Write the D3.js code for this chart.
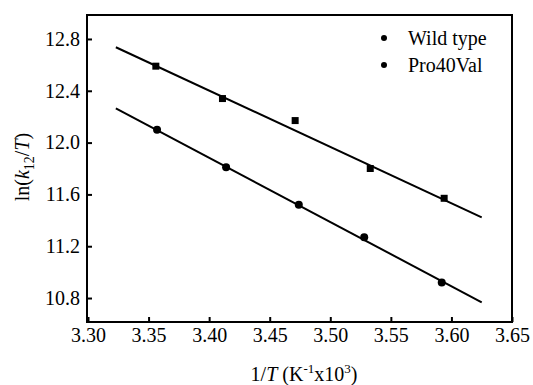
<!DOCTYPE html>
<html>
<head>
<meta charset="utf-8">
<script src="https://cdn.jsdelivr.net/npm/d3@7"></script>
<style>
  body { margin: 0; background: #fff; }
  svg { display: block; font-family: "Liberation Serif", "Times New Roman", serif; }
</style>
</head>
<body>
<div id="chart"></div>
<script>
// data
const wildX = [3.356, 3.411, 3.471, 3.533, 3.594];
const wildY = [12.59, 12.34, 12.17, 11.80, 11.57];
const proX = [3.357, 3.414, 3.474, 3.528, 3.592];
const proY = [12.10, 11.81, 11.52, 11.27, 10.92];
// fitted lines, endpoints as drawn
const fitX = [3.323, 3.625];
const wildFit = [12.736, 11.423];
const proFit = [12.265, 10.767];
const xTicks = [3.30, 3.35, 3.40, 3.45, 3.50, 3.55, 3.60, 3.65];
const yTicks = [10.8, 11.2, 11.6, 12.0, 12.4, 12.8];
const legendLabels = ["Wild type", "Pro40Val"];

const width = 533, height = 385;
const margin = {top: 15, right: 21, bottom: 63, left: 87};

const svg = d3.select("#chart")
    .append("svg")
    .attr("width", width)
    .attr("height", height);

const x = d3.scaleLinear()
    .domain([3.30, 3.65])
    .range([margin.left + 1, width - margin.right]);

const y = d3.scaleLinear()
    .domain([10.615, 12.985])
    .range([height - margin.bottom, margin.top]);

// frame
svg.append("rect")
    .attr("x", margin.left)
    .attr("y", margin.top)
    .attr("width", width - margin.right - margin.left)
    .attr("height", height - margin.bottom - margin.top)
    .attr("fill", "none")
    .attr("stroke", "#000")
    .attr("stroke-width", 2);

const xAxis = svg.append("g")
    .attr("transform", `translate(0,${height - margin.bottom})`)
    .call(d3.axisBottom(x).tickValues(xTicks).tickFormat(d3.format(".2f"))
        .tickSize(-5).tickPadding(6));

const yAxis = svg.append("g")
    .attr("transform", `translate(${margin.left},0)`)
    .call(d3.axisLeft(y).tickValues(yTicks).tickFormat(d3.format(".1f"))
        .tickSize(-5).tickPadding(7));

[xAxis, yAxis].forEach(g => {
    g.select(".domain").remove();
    g.selectAll(".tick line").attr("stroke", "#000").attr("stroke-width", 2);
    g.selectAll(".tick text")
        .attr("fill", "#000")
        .attr("font-size", "20px")
        .attr("font-family", "Liberation Serif, serif");
});

// fit lines
const line = d3.line().x(d => x(d[0])).y(d => y(d[1]));
[wildFit, proFit].forEach(f => {
    svg.append("path")
        .datum(fitX.map((v, i) => [v, f[i]]))
        .attr("d", line)
        .attr("fill", "none")
        .attr("stroke", "#000")
        .attr("stroke-width", 2);
});

// points
svg.selectAll("rect.wild")
    .data(wildX.map((v, i) => [v, wildY[i]]))
    .enter()
    .append("rect")
    .attr("class", "wild")
    .attr("x", d => x(d[0]) - 3.5)
    .attr("y", d => y(d[1]) - 3.5)
    .attr("width", 7)
    .attr("height", 7)
    .attr("fill", "#000");

svg.selectAll("circle.pro")
    .data(proX.map((v, i) => [v, proY[i]]))
    .enter()
    .append("circle")
    .attr("class", "pro")
    .attr("cx", d => x(d[0]))
    .attr("cy", d => y(d[1]))
    .attr("r", 4)
    .attr("fill", "#000");

// legend
const legend = svg.append("g").attr("transform", "translate(384,38)");
legendLabels.forEach((label, i) => {
    legend.append("circle")
        .attr("cx", 0)
        .attr("cy", i * 27)
        .attr("r", 3)
        .attr("fill", "#000");
    legend.append("text")
        .attr("x", 24)
        .attr("y", i * 27 + 7)
        .attr("font-size", "20px")
        .text(label);
});

// axis titles
const xt = svg.append("text")
    .attr("x", 304)
    .attr("y", 381)
    .attr("text-anchor", "middle")
    .attr("font-size", "20px");
xt.append("tspan").text("1/");
xt.append("tspan").attr("font-style", "italic").text("T");
xt.append("tspan").text(" (K");
xt.append("tspan").attr("font-size", "13px").attr("dy", -8).text("-1");
xt.append("tspan").attr("dy", 8).text("x10");
xt.append("tspan").attr("font-size", "13px").attr("dy", -8).text("3");
xt.append("tspan").attr("dy", 8).text(")");

const yt = svg.append("text")
    .attr("transform", "translate(29,167) rotate(-90)")
    .attr("text-anchor", "middle")
    .attr("font-size", "20px");
yt.append("tspan").text("ln(");
yt.append("tspan").attr("font-style", "italic").text("k");
yt.append("tspan").attr("font-size", "14px").attr("dy", 5).text("12");
yt.append("tspan").attr("dy", -5).text("/");
yt.append("tspan").attr("font-style", "italic").text("T");
yt.append("tspan").text(")");
</script>
</body>
</html>
